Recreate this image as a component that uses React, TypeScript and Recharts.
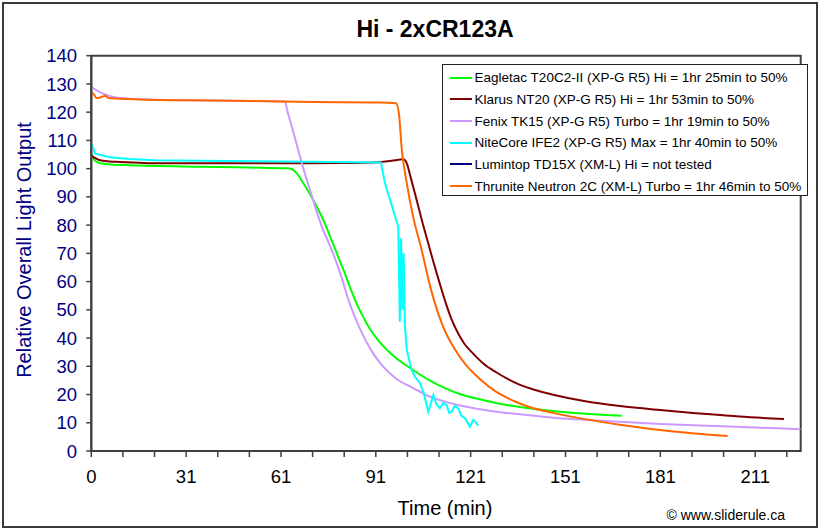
import React from "react";
import { LineChart, Line, XAxis, YAxis, Legend, ReferenceArea } from "recharts";

const FONT = "Arial, 'Liberation Sans', Helvetica, sans-serif";

// ---- Data (time in chart units, output relative) ----
const eagletacTime = [0, 1, 2.8, 6, 13, 34, 50, 62, 63.5, 65, 67.1, 70.2, 73.4, 76, 78, 80, 82, 84, 86, 88, 91.3, 96, 101.8, 107, 112.4, 117, 122.9, 128, 135.6, 146.1, 156.7, 167.8];
const eagletacOutput = [105.2, 103, 101.9, 101.5, 101.2, 100.7, 100.4, 100.1, 99.8, 98.3, 94.8, 88.9, 81.8, 74.7, 69, 63.5, 57.5, 52, 47.5, 43.5, 38.5, 33.3, 28.7, 25, 22, 20, 18.3, 17, 15.6, 14.2, 13.2, 12.5];

const klarusTime = [0, 2.8, 8, 15, 21.8, 40, 60, 80, 91.3, 95, 98.7, 99.8, 101, 102.9, 104.5, 106.6, 108.2, 110.3, 112.4, 114, 116.1, 118, 120.8, 124, 128.2, 131.4, 135.6, 141, 146.1, 156.7, 167.2, 179.9, 192.5, 205, 219.1];
const klarusOutput = [104.6, 103, 102.4, 102.1, 101.9, 101.9, 101.9, 102, 102.3, 102.8, 103.3, 101.9, 97, 89, 82, 73.5, 67, 59, 51.5, 46.5, 41.5, 38, 34.5, 31, 27.8, 25.7, 23.4, 21.4, 19.9, 17.5, 15.9, 14.5, 13.3, 12.2, 11.3];

const fenixTime = [0, 2, 5, 9, 18.6, 30, 50, 61.3, 62, 63.4, 65, 67.1, 69.2, 71.3, 73, 75, 77, 79, 81.8, 84.9, 89.2, 92.4, 96.6, 101.8, 106, 112.4, 117, 122.9, 128, 135.6, 146.1, 156.7, 167.2, 179.9, 195, 210, 224.4];
const fenixOutput = [129, 127.5, 126, 125, 124.5, 124.2, 124, 123.8, 120.5, 115, 108.5, 100, 92.4, 84.8, 79.2, 74, 68.5, 62, 52, 43.5, 34.5, 29.8, 25.5, 22.3, 19.8, 17.3, 16, 14.8, 13.9, 13, 11.8, 11, 10.4, 9.6, 8.9, 8.3, 7.7];

const nitecoreTime = [0, 1.2, 3, 5.9, 12, 20, 34, 60, 91.6, 92.9, 95.5, 97.1, 97.6, 98.0, 98.4, 98.8, 99.2, 99.8, 101.3, 102.4, 104, 105.2, 106.6, 108.2, 109.2, 110.3, 111.3, 112.4, 113.2, 114, 115, 116.1, 117, 118.2, 119.8, 120.8, 121.4, 122.4];
const nitecoreOutput = [109, 105.4, 104.8, 104, 103.4, 103, 102.8, 102.5, 102.2, 94.8, 85.3, 79.4, 45.8, 75.3, 50, 70, 44, 35.8, 28.7, 26.3, 24, 20.4, 13.9, 19.8, 16.5, 15.1, 17, 16.3, 13.5, 13.9, 16, 15.1, 12.5, 11.6, 8.6, 11, 10.5, 9];

const lumintopTime: number[] = [];
const lumintopOutput: number[] = [];

const thruniteTime = [0, 1, 1.7, 3, 4.4, 5.5, 8, 15, 30, 50, 70, 90, 96.4, 97.3, 98.2, 99.8, 101.8, 104.5, 106.6, 108.5, 111.3, 115.6, 118.5, 122.9, 128, 133.5, 138.8, 146.1, 156.7, 167.2, 179.9, 190, 201.3];
const thruniteOutput = [127.2, 126, 125, 125.3, 125.8, 125, 124.8, 124.5, 124.2, 124, 123.6, 123.4, 123.2, 119.6, 107, 94.8, 83, 71.2, 61, 53, 44, 35, 30.5, 25.5, 21, 17.8, 15.5, 13.5, 11.2, 9.3, 7.4, 6.3, 5.3];

const seriesNames = [
  "Eagletac T20C2-II (XP-G R5) Hi = 1hr 25min to 50%",
  "Klarus NT20 (XP-G R5) Hi = 1hr 53min to 50%",
  "Fenix TK15 (XP-G R5) Turbo = 1hr 19min to 50%",
  "NiteCore IFE2 (XP-G R5) Max = 1hr 40min to 50%",
  "Lumintop TD15X (XM-L) Hi = not tested",
  "Thrunite Neutron 2C (XM-L) Turbo = 1hr 46min to 50%",
];
const seriesColors = ["#00FF00", "#800000", "#CC99FF", "#00FFFF", "#000080", "#FF6600"];

const xTickValues = [0, 10, 20, 30, 40, 50, 60, 70, 80, 90, 100, 110, 120, 130, 140, 150, 160, 170, 180, 190, 200, 210, 220];
const xTickLabels = ["0", "31", "61", "91", "121", "151", "181", "211"];
const yTickValues = [0, 10, 20, 30, 40, 50, 60, 70, 80, 90, 100, 110, 120, 130, 140];

const title = "Hi - 2xCR123A";
const xTitle = "Time (min)";
const yTitle = "Relative Overall Light Output";
const credit = "\u00A9 www.sliderule.ca";

const toPoints = (t: number[], v: number[]) => t.map((x, i) => ({ t: x, v: v[i] }));

const series = [
  { name: seriesNames[0], color: seriesColors[0], data: toPoints(eagletacTime, eagletacOutput), curve: "monotone" },
  { name: seriesNames[1], color: seriesColors[1], data: toPoints(klarusTime, klarusOutput), curve: "monotone" },
  { name: seriesNames[2], color: seriesColors[2], data: toPoints(fenixTime, fenixOutput), curve: "monotone" },
  { name: seriesNames[3], color: seriesColors[3], data: toPoints(nitecoreTime, nitecoreOutput), curve: "linear" },
  { name: seriesNames[4], color: seriesColors[4], data: toPoints(lumintopTime, lumintopOutput), curve: "linear" },
  { name: seriesNames[5], color: seriesColors[5], data: toPoints(thruniteTime, thruniteOutput), curve: "monotone" },
];

const xFormat = (v: number) => {
  if (v % 30 !== 0) return "";
  return xTickLabels[v / 30] ?? "";
};

const renderLegend = () => (
  <div
    style={{
      width: 366,
      height: 132,
      border: "1px solid #222",
      background: "#fff",
      boxSizing: "border-box",
      fontFamily: FONT,
      fontSize: 13.5,
      color: "#000",
      paddingTop: 1.5,
    }}
  >
    {series.map((s) => (
      <div key={s.name} style={{ height: 21.7, display: "flex", alignItems: "center", whiteSpace: "nowrap" }}>
        <span style={{ display: "inline-block", width: 22, height: 2, background: s.color, marginLeft: 7.3, marginRight: 2.6 }} />
        <span>{s.name}</span>
      </div>
    ))}
  </div>
);

export default function App() {
  return (
    <div style={{ position: "absolute", left: 0, top: 0, width: 822, height: 530, background: "#fff" }}>
      <div
        style={{
          position: "absolute",
          left: 2,
          top: 2,
          width: 816,
          height: 526,
          border: "2px solid #3a3a3a",
          boxSizing: "border-box",
        }}
      />
      <div style={{ position: "absolute", left: 0, top: 0 }}>
        <LineChart width={822} height={530} margin={{ top: 55.7, right: 21.3, bottom: 39, left: 31.3 }}>
          <XAxis
            dataKey="t"
            type="number"
            domain={[0, 224.4]}
            ticks={xTickValues}
            interval={0}
            allowDataOverflow
            tickFormatter={xFormat}
            height={40}
            tickSize={6}
            tickMargin={13}
            axisLine={{ stroke: "#404040", strokeWidth: 2 }}
            tickLine={{ stroke: "#404040", strokeWidth: 1.5 }}
            tick={{ fill: "#000", fontSize: 18.5, fontFamily: FONT }}
          />
          <YAxis
            type="number"
            domain={[0, 140]}
            ticks={yTickValues}
            interval={0}
            width={60}
            tickSize={5}
            tickMargin={9.3}
            axisLine={{ stroke: "#404040", strokeWidth: 2 }}
            tickLine={{ stroke: "#404040", strokeWidth: 1.5 }}
            tick={{ fill: "#000080", fontSize: 18.5, fontFamily: FONT }}
          />
          <ReferenceArea x1={0} x2={224.4} y1={0} y2={140} fill="none" stroke="#404040" strokeWidth={2} ifOverflow="visible" />
          {series.map((s) => (
            <Line
              key={s.name}
              data={s.data}
              dataKey="v"
              name={s.name}
              type={s.curve as any}
              stroke={s.color}
              strokeWidth={2}
              dot={false}
              activeDot={false}
              isAnimationActive={false}
            />
          ))}
          <Legend
            layout="vertical"
            align="center"
            verticalAlign="middle"
            content={renderLegend}
            wrapperStyle={{ left: 441.7, top: 64.3, width: 366, height: 132 }}
          />
        </LineChart>
      </div>
      <svg width={822} height={530} style={{ position: "absolute", left: 0, top: 0, pointerEvents: "none" }}>
        <text x={435} y={37.3} textAnchor="middle" fontFamily={FONT} fontSize={23} fontWeight="bold" fill="#000">
          {title}
        </text>
        <text x={445} y={515} textAnchor="middle" fontFamily={FONT} fontSize={20} fill="#000">
          {xTitle}
        </text>
        <text
          transform="translate(31,250) rotate(-90)"
          x={0}
          y={0}
          textAnchor="middle"
          fontFamily={FONT}
          fontSize={20}
          fill="#000080"
        >
          {yTitle}
        </text>
        <text x={785} y={520} textAnchor="end" fontFamily={FONT} fontSize={14} fill="#000">
          {credit}
        </text>
      </svg>
    </div>
  );
}
